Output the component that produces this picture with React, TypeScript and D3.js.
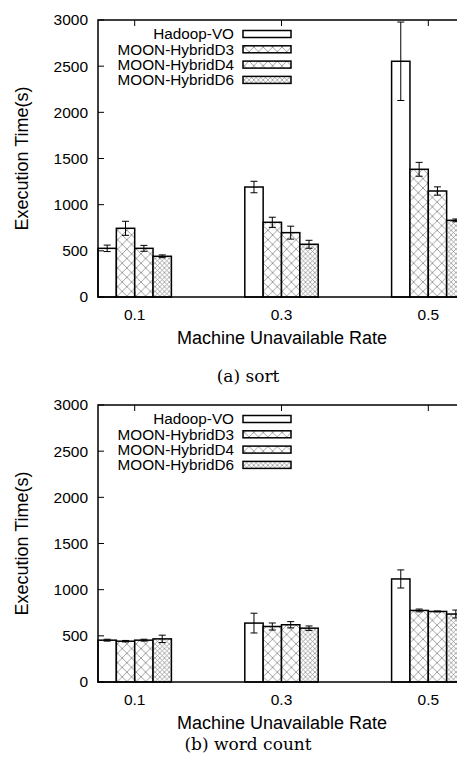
import * as d3 from 'd3'

const rates = ['0.1', '0.3', '0.5']
const seriesNames = ['Hadoop-VO', 'MOON-HybridD3', 'MOON-HybridD4', 'MOON-HybridD6']
const yTicks = [0, 500, 1000, 1500, 2000, 2500, 3000]

// sort: [value, error] per rate, one array per series
const sortHadoop = [[527, 35], [1191, 62], [2553, 425]]
const sortD3 = [[744, 76], [809, 55], [1383, 75]]
const sortD4 = [[527, 32], [697, 70], [1148, 45]]
const sortD6 = [[441, 15], [571, 43], [830, 15]]

// word count
const wcHadoop = [[453, 10], [638, 107], [1116, 98]]
const wcD3 = [[442, 8], [601, 38], [775, 15]]
const wcD4 = [[453, 10], [620, 34], [764, 5]]
const wcD6 = [[467, 40], [583, 24], [736, 43]]

const fills = ['white', 'url(#hatchBig)', 'url(#hatchBig)', 'url(#hatchFine)']
const sans = '"Liberation Sans", Arial, sans-serif'
const serif = '"DejaVu Serif", "Liberation Serif", serif'

function Panel({top, series, caption, captionY}: {top: number, series: number[][][], caption: string, captionY: number}) {
    const innerH = 277
    const bottom = top + innerH
    const x = d3.scaleLinear().domain([-0.25, 2.25]).range([98, 465])
    const y = d3.scaleLinear().domain([0, 3000]).range([bottom, top])
    const bw = x(0.125) - x(0)

    return (
        <g>
            {series.map((s, j) => s.map(([v, e], i) => {
                const cx = x(i) + (j - 1.5) * bw
                return (
                    <g key={`${j}-${i}`}>
                        <rect x={cx - bw / 2} y={y(v)} width={bw} height={y(0) - y(v)}
                              fill={fills[j]} stroke='black' strokeWidth={1.5}/>
                        <line x1={cx} x2={cx} y1={y(v - e)} y2={y(v + e)} stroke='black' strokeWidth={1}/>
                        <line x1={cx - 3.5} x2={cx + 3.5} y1={y(v - e)} y2={y(v - e)} stroke='black' strokeWidth={1}/>
                        <line x1={cx - 3.5} x2={cx + 3.5} y1={y(v + e)} y2={y(v + e)} stroke='black' strokeWidth={1}/>
                    </g>
                )
            }))}

            {/* frame */}
            <rect x={98} y={top} width={465 - 98} height={innerH} fill='none' stroke='black' strokeWidth={1.5}/>

            {yTicks.map(t => (
                <g key={t}>
                    <line x1={98} x2={104} y1={y(t)} y2={y(t)} stroke='black' strokeWidth={1}/>
                    <text x={88} y={y(t)} dy='0.35em' textAnchor='end' fontSize={15.5} fontFamily={sans}>{t}</text>
                </g>
            ))}
            {rates.map((r, i) => (
                <g key={r}>
                    <line x1={x(i)} x2={x(i)} y1={top} y2={top + 6} stroke='black' strokeWidth={1}/>
                    <line x1={x(i)} x2={x(i)} y1={bottom} y2={bottom - 6} stroke='black' strokeWidth={1}/>
                    <text x={x(i)} y={bottom + 23} textAnchor='middle' fontSize={15.5} fontFamily={sans}>{r}</text>
                </g>
            ))}

            {seriesNames.map((n, j) => {
                const ry = top + 14 + j * 15.3
                return (
                    <g key={n}>
                        <text x={234} y={ry} dy='0.35em' textAnchor='end' fontSize={15.3} fontFamily={sans}>{n}</text>
                        <rect x={243} y={ry - 3.5} width={48} height={7} fill={fills[j]} stroke='black' strokeWidth={1.5}/>
                    </g>
                )
            })}

            <text x={282} y={bottom + 47} textAnchor='middle' fontSize={18} fontFamily={sans}>Machine Unavailable Rate</text>
            <text transform={`translate(28,${(top + bottom) / 2}) rotate(-90)`} textAnchor='middle'
                  fontSize={18} fontFamily={sans}>Execution Time(s)</text>
            <text x={248} y={captionY} textAnchor='middle' fontSize={17} fontFamily={serif}>{caption}</text>
        </g>
    )
}

export default function App() {
    return (
        <svg width={457} height={760} style={{position: 'absolute', left: 0, top: 0, background: 'white'}}>
            <defs>
                <pattern id='hatchBig' patternUnits='userSpaceOnUse' width={9.4} height={9.4}>
                    <rect width={9.4} height={9.4} fill='white'/>
                    <path d='M0,0L9.4,9.4M9.4,0L0,9.4' stroke='#888' strokeWidth={0.8}/>
                </pattern>
                <pattern id='hatchFine' patternUnits='userSpaceOnUse' width={4.7} height={4.7}>
                    <rect width={4.7} height={4.7} fill='white'/>
                    <path d='M0,0L4.7,4.7M4.7,0L0,4.7' stroke='#888' strokeWidth={0.7}/>
                </pattern>
            </defs>
            <Panel top={20} series={[sortHadoop, sortD3, sortD4, sortD6]} caption='(a) sort' captionY={382}/>
            <Panel top={405} series={[wcHadoop, wcD3, wcD4, wcD6]} caption='(b) word count' captionY={750}/>
        </svg>
    )
}
